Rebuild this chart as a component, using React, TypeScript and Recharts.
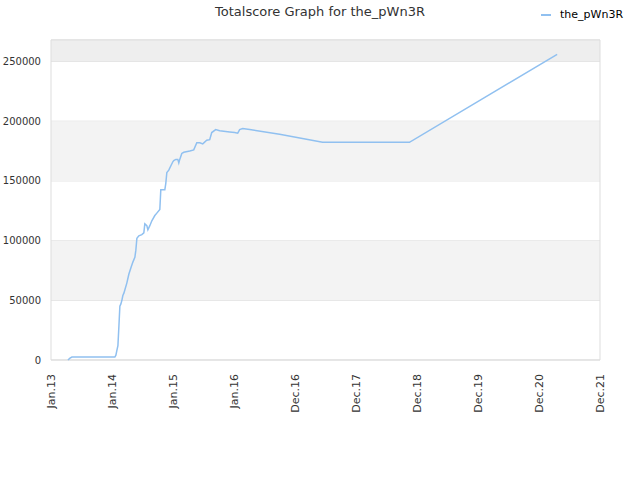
import React from "react";
import {
  CartesianGrid,
  LineChart,
  Line,
  ReferenceArea,
  XAxis,
  YAxis,
} from "recharts";

// x is years since Jan 2013 (one tick per year on the axis)
const xValues = [
  0.278, 0.311, 0.344, 0.393, 1.047, 1.064, 1.08, 1.097, 1.113, 1.129, 1.146,
  1.162, 1.178, 1.195, 1.244, 1.277, 1.309, 1.342, 1.375, 1.391, 1.408, 1.44,
  1.489, 1.522, 1.538, 1.571, 1.588, 1.62, 1.653, 1.702, 1.735, 1.784, 1.8,
  1.866, 1.882, 1.899, 1.931, 1.997, 2.013, 2.046, 2.079, 2.095, 2.111, 2.144,
  2.177, 2.275, 2.34, 2.39, 2.439, 2.488, 2.553, 2.602, 2.635, 2.7, 2.766,
  2.93, 3.011, 3.061, 3.093, 3.142, 3.257, 3.748, 4.452, 5.876, 8.298,
];
const scores = [
  0, 1500, 2500, 2500, 2500, 4000, 8000, 12000, 28000, 45000, 47000, 50000,
  54000, 56000, 64600, 72000, 77000, 82000, 86000, 92000, 102000, 104000,
  105000, 106500, 114000, 112500, 109000, 112500, 116600, 121000, 123000,
  126000, 142500, 142500, 148000, 157000, 159000, 166000, 167000, 168000,
  168000, 165000, 168000, 173000, 174000, 175000, 176000, 182000, 182000,
  181000, 184000, 184500, 190500, 193000, 192000, 191000, 190500, 190000,
  193000, 193800, 193000, 189000, 182300, 182300, 256000,
];
const xTickLabels = [
  "Jan.13",
  "Jan.14",
  "Jan.15",
  "Jan.16",
  "Dec.16",
  "Dec.17",
  "Dec.18",
  "Dec.19",
  "Dec.20",
  "Dec.21",
];
const yTicks = [0, 50000, 100000, 150000, 200000, 250000];
const playerName = "the_pWn3R";

const data = xValues.map((x, i) => ({ x, score: scores[i] }));
const font = "'DejaVu Sans', sans-serif";

function XTick(props: any) {
  const { x, y, payload } = props;
  return (
    <text
      x={x}
      y={y}
      transform={`rotate(-90, ${x}, ${y})`}
      textAnchor="end"
      dominantBaseline="central"
      fontSize={11}
      fill="#333"
      fontFamily={font}
    >
      {xTickLabels[payload.value]}
    </text>
  );
}

export default function App() {
  return (
    <div
      style={{
        position: "absolute",
        left: 0,
        top: 0,
        width: 640,
        height: 480,
        background: "#fff",
        fontFamily: font,
      }}
    >
      <div
        style={{
          position: "absolute",
          top: 4,
          width: 640,
          textAlign: "center",
          fontSize: 13,
          color: "#333",
        }}
      >
        Totalscore Graph for {playerName}
      </div>
      <div
        style={{
          position: "absolute",
          top: 8,
          left: 541,
          fontSize: 11,
          color: "#000",
          display: "flex",
          alignItems: "center",
        }}
      >
        <span
          style={{
            display: "inline-block",
            width: 10,
            height: 2,
            background: "#90c0f0",
            marginRight: 9,
          }}
        />
        {playerName}
      </div>
      <LineChart
        width={640}
        height={480}
        data={data}
        margin={{ top: 40, right: 40, bottom: 60, left: 0 }}
      >
        <ReferenceArea y1={50000} y2={100000} fill="#f3f3f3" fillOpacity={1} stroke="none" ifOverflow="hidden" />
        <ReferenceArea y1={150000} y2={200000} fill="#f3f3f3" fillOpacity={1} stroke="none" ifOverflow="hidden" />
        <ReferenceArea y1={250000} y2={268000} fill="#eeeeee" fillOpacity={1} stroke="none" ifOverflow="hidden" />
        <CartesianGrid vertical={false} stroke="#dddddd" />
        <ReferenceArea
          x1={0}
          x2={9}
          y1={0}
          y2={268000}
          fill="none"
          stroke="#dddddd"
          strokeWidth={1}
        />
        <XAxis
          dataKey="x"
          type="number"
          domain={[0, 9]}
          ticks={[0, 1, 2, 3, 4, 5, 6, 7, 8, 9]}
          interval={0}
          tick={<XTick />}
          tickLine={false}
          axisLine={false}
          tickMargin={8}
          height={60}
        />
        <YAxis
          type="number"
          domain={[0, 268000]}
          ticks={yTicks}
          width={51}
          tick={{ fontSize: 10, fill: "#333", fontFamily: font }}
          tickLine={false}
          axisLine={false}
          tickMargin={4}
          interval={0}
        />
        <Line
          type="linear"
          dataKey="score"
          stroke="#90c0f0"
          strokeWidth={1.5}
          dot={false}
          isAnimationActive={false}
        />
      </LineChart>
    </div>
  );
}
